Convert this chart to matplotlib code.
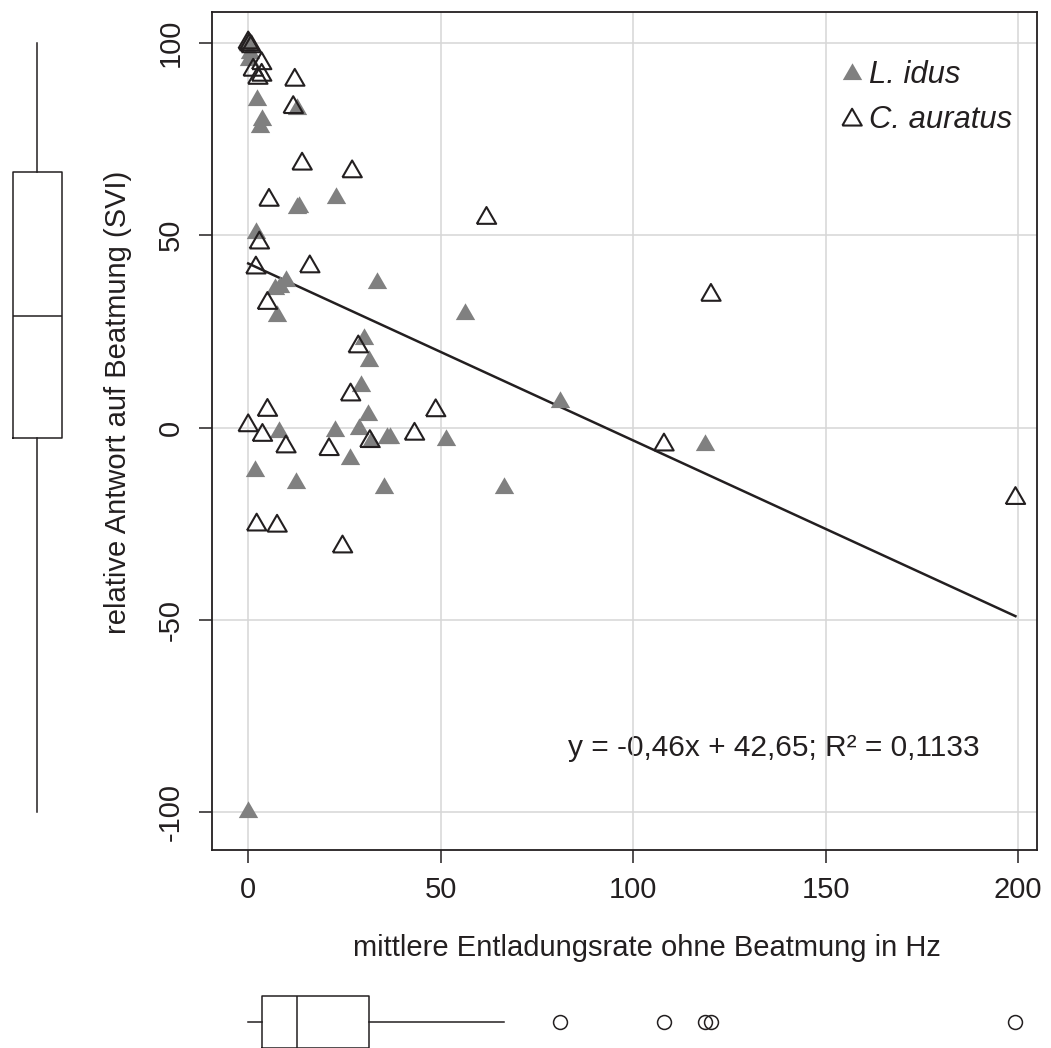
import numpy as np
import matplotlib
matplotlib.use("Agg")
import matplotlib.pyplot as plt

plt.rcParams['font.family'] = ['Liberation Sans', 'DejaVu Sans']

# L. idus (filled grey triangles)
idus_x = [0.0, 0.5, 0.2, 2.2, 12.8, 3.7, 3.0, 13.2, 12.6, 22.7, 2.0, 9.8,
          8.3, 6.9, 7.4, 33.5, 56.2, 30.2, 31.4, 29.3, 31.2, 28.7, 22.5, 8.0,
          32.0, 36.0, 36.8, 51.3, 26.4, 1.7, 12.4, 35.2, 66.4, 81.0, 118.6, 0.0]
idus_y = [100.0, 97.3, 95.5, 85.1, 82.7, 79.9, 78.2, 57.4, 57.0, 59.6, 50.5, 38.0,
          36.6, 36.0, 28.9, 37.5, 29.4, 23.1, 17.4, 10.7, 3.2, -0.5, -1.0, -1.2,
          -3.8, -2.8, -2.8, -3.2, -8.2, -11.3, -14.4, -15.8, -15.8, 6.7, -4.5, -100.0]

# C. auratus (open triangles)
auratus_x = [0.0, 0.3, 0.8, 1.3, 3.5, 3.5, 2.5, 12.1, 11.7, 14.0, 27.0, 5.4,
             61.9, 2.9, 2.0, 16.0, 5.0, 120.2, 28.6, 26.6, 5.0, 48.7, 0.0, 3.7,
             9.8, 21.0, 31.6, 43.2, 108.0, 199.3, 2.2, 7.5, 24.5]
auratus_y = [100.0, 99.5, 99.0, 92.9, 94.6, 91.6, 90.8, 90.3, 83.2, 68.5, 66.5, 59.1,
             54.4, 48.0, 41.5, 41.8, 32.3, 34.4, 21.0, 8.5, 4.5, 4.4, 0.5, -2.0,
             -5.0, -5.7, -3.6, -1.7, -4.5, -18.4, -25.3, -25.6, -31.0]

# regression line as printed on the chart
slope = -0.46
intercept = 42.65
fit_label = "y = -0,46x + 42,65; R² = 0,1133"

x_ticks = [0, 50, 100, 150, 200]
y_ticks = [-100, -50, 0, 50, 100]

all_x = np.array(idus_x + auratus_x)
all_y = np.array(idus_y + auratus_y)

W, H = 1051, 1048
fig = plt.figure(figsize=(W / 100, H / 100), dpi=100)
txt = '#231f20'
grey = '#808080'
fs = 21

# equilateral triangle marker
tri = [(-1.0, -0.577), (1.0, -0.577), (0.0, 1.155), (-1.0, -0.577)]

# main scatter axes
left, right, top, bottom = 212, 1037, 12, 850
ax = fig.add_axes([left / W, 1 - bottom / H, (right - left) / W, (bottom - top) / H])
xlim = (-9.4, 204.9)
ylim = (-109.8, 108.0)
ax.set_xlim(*xlim)
ax.set_ylim(*ylim)

ax.scatter(idus_x, idus_y, marker=tri, s=260, color=grey, linewidths=0,
           zorder=3, label='L. idus')
ax.scatter(auratus_x, auratus_y, marker=tri, s=260, facecolors='none',
           edgecolors=txt, linewidths=1.5, zorder=4, label='C. auratus')

xs = np.array([all_x.min(), all_x.max()])
ax.plot(xs, slope * xs + intercept, color=txt, lw=1.8, zorder=2)

ax.text(136.5, -83.3, fit_label, fontsize=21.5, color=txt, ha='center', va='center', zorder=0.3)

ax.set_axisbelow(True)
ax.grid(True, color='#d6d6d6', lw=1.1)
ax.set_xticks(x_ticks)
ax.set_yticks(y_ticks)
ax.set_yticklabels([str(v) for v in y_ticks], rotation=90, va='center')
ax.tick_params(axis='both', direction='out', length=9.5, width=1.1, colors=txt,
               labelsize=fs)
ax.tick_params(axis='y', pad=10)
ax.tick_params(axis='x', pad=9)
for s in ax.spines.values():
    s.set_linewidth(1.3)
    s.set_color(txt)

leg = ax.legend(loc='upper right', bbox_to_anchor=(0.985, 0.958), borderaxespad=0,
                frameon=False, handlelength=0.8, handletextpad=0.15,
                labelspacing=0.5, markerscale=1.0,
                prop={'style': 'italic', 'size': 22.3})
for t in leg.get_texts():
    t.set_color(txt)

fig.text(118 / W, 1 - 402 / H, "relative Antwort auf Beatmung (SVI)", rotation=90,
         ha='center', va='center', fontsize=fs, color=txt)
fig.text(647 / W, 1 - 948 / H, "mittlere Entladungsrate ohne Beatmung in Hz",
         ha='center', va='center', fontsize=fs, color=txt)

box_style = dict(patch_artist=False, showcaps=False,
                 boxprops=dict(color=txt, lw=1.1),
                 medianprops=dict(color=txt, lw=1.1),
                 whiskerprops=dict(color=txt, lw=1.1, linestyle='-'),
                 flierprops=dict(marker='o', markersize=10, markerfacecolor='none',
                                 markeredgecolor=txt, markeredgewidth=1.1))

# left boxplot of y values
axl = fig.add_axes([0, 1 - bottom / H, 74 / W, (bottom - top) / H])
axl.boxplot(all_y, positions=[0.5], widths=49 / 74, **box_style)
axl.set_xlim(0, 1)
axl.set_ylim(*ylim)
axl.axis('off')

# bottom boxplot of x values (box runs past the lower figure edge)
b_top, b_bot = 985, 1048
axb = fig.add_axes([left / W, 1 - b_bot / H, (right - left) / W, (b_bot - b_top) / H])
axb.boxplot(all_x, positions=[(b_bot - 1022) / (b_bot - b_top)], vert=False,
            widths=52 / (b_bot - b_top), **box_style)
axb.set_xlim(*xlim)
axb.set_ylim(0, 1)
axb.axis('off')

fig.savefig('out.png', dpi=100)
